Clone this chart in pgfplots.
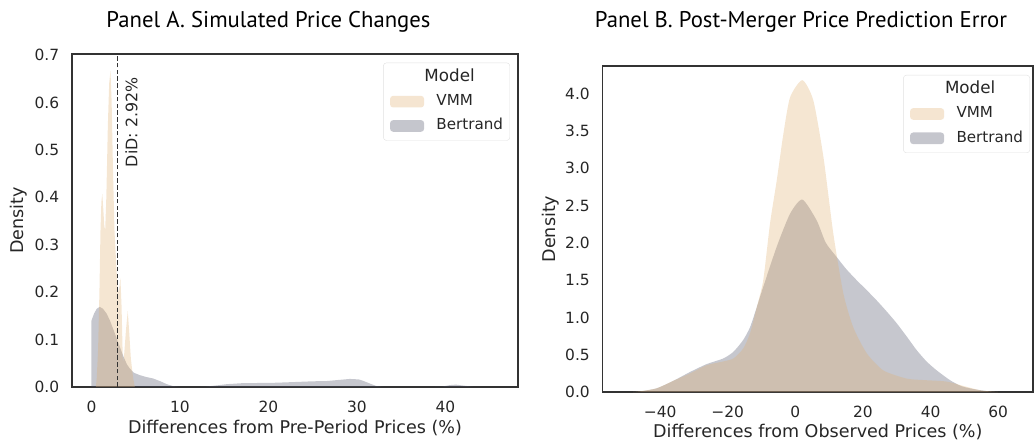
\documentclass[border=0pt]{standalone}
\usepackage{fontspec}
\setmainfont{DejaVu Sans}
\newfontfamily\titlefont{PT Sans}
\usepackage{pgfplots}
\pgfplotsset{compat=1.18}
\definecolor{vmm}{RGB}{224,177,114}
\definecolor{bert}{RGB}{77,80,102}
\definecolor{framec}{RGB}{51,51,51}
\newcommand\tickfont{\fontsize{15.5}{18}\selectfont}
\newcommand\labelfont{\fontsize{17.6}{20}\selectfont}
\newcommand\legfont{\fontsize{15.2}{18}\selectfont}

\pgfplotsset{
  mystyle/.style={
    scale only axis,
    axis line style={framec, line width=1.25bp},
    major tick length=0pt,
    tick label style={font=\tickfont, text=black!85},
    label style={font=\labelfont, text=black!85},
    xticklabel style={anchor=base, yshift=-25.3bp, inner sep=0pt},
    yticklabel style={anchor=east, xshift=-12.7bp, inner sep=0pt},
    legend style={draw=black!12, rounded corners=3bp, fill=white, font=\legfont,
      text=black!85, inner xsep=6.7bp, inner ysep=7.5bp, row sep=10.3bp, column sep=12.4bp,
      nodes={inner sep=0pt, text height=11bp, text depth=3bp}, anchor=north east},
    legend cell align=left,
    legend image code/.code={\fill[##1] (0bp,-5.8bp) rectangle (34bp,5.8bp);},
  },
  vmmstyle/.style={fill=vmm, fill opacity=0.32, draw=none},
  bertstyle/.style={fill=bert, fill opacity=0.32, draw=none},
}

\begin{document}
\begin{tikzpicture}
\useasboundingbox (0,0) rectangle (1034bp,441bp);

\node[font=\titlefont\fontsize{22.8}{26}\selectfont] at (268.5bp,419bp) {Panel A. Simulated Price Changes};
\node[font=\titlefont\fontsize{22.8}{26}\selectfont] at (801bp,419bp) {Panel B. Post-Merger Price Prediction Error};

% Panel A
\begin{axis}[mystyle,
  at={(72bp,54bp)}, anchor=south west,
  width=446bp, height=333bp,
  xmin=-2.2, xmax=48.2, ymin=0, ymax=0.702,
  xtick={0,10,20,30,40}, xticklabels={0,10,20,30,40},
  ytick={0,0.1,0.2,0.3,0.4,0.5,0.6,0.7},
  yticklabels={0.0,0.1,0.2,0.3,0.4,0.5,0.6,0.7},
  xlabel={Differences from Pre-Period Prices (\%)},
  ylabel={Density},
  xlabel style={at={(axis description cs:0.5,-0.124)}, anchor=center},
  ylabel style={at={(axis description cs:-0.1204,0.5)}, anchor=center},
  legend style={at={(axis description cs:0.982,0.974)}},
]
\addplot[bertstyle, forget plot] coordinates {
(0,0) (0,0.14) (0.3,0.155) (0.6,0.165) (0.94,0.169) (1.3,0.165) (1.7,0.155) (2.07,0.141)
(2.5,0.12) (2.9,0.10) (3.2,0.085) (3.6,0.065) (4.0,0.048) (4.33,0.039) (4.8,0.03) (5.46,0.025)
(6.2,0.021) (6.96,0.018) (7.8,0.012) (8.5,0.006) (9.2,0.002) (10,0.0005) (11,0.0002) (12,0.0003)
(13,0.001) (14,0.003) (15.3,0.006) (17,0.008) (19,0.0085) (20.9,0.009) (23,0.0105) (25,0.012)
(26.6,0.0126) (28,0.015) (29.2,0.017) (30.2,0.016) (30.7,0.013) (31.5,0.007) (32.2,0.002) (33,0.0005)
(34,0.0001) (38,0.0001) (39.7,0.001) (40.5,0.004) (41.2,0.005) (42,0.003) (43.1,0.0005) (44,0)
} \closedcycle;
\addplot[vmmstyle, forget plot] coordinates {
(0.5,0) (0.6,0.02) (0.75,0.08) (0.9,0.2) (1.02,0.33) (1.12,0.39) (1.22,0.407) (1.32,0.38)
(1.45,0.34) (1.55,0.33) (1.68,0.4) (1.85,0.55) (2.0,0.64) (2.15,0.666) (2.28,0.6) (2.44,0.45)
(2.6,0.33) (2.82,0.25) (3.0,0.2) (3.15,0.21) (3.27,0.23) (3.4,0.17) (3.55,0.05) (3.7,0.07)
(3.9,0.12) (4.1,0.16) (4.25,0.12) (4.45,0.06) (4.7,0.02) (4.9,0)
} \closedcycle;
\addplot[forget plot, framec, line width=1.5bp, dash pattern=on 4.6bp off 2.2bp] coordinates {(2.92,0) (2.92,0.702)};
\node[rotate=90, font=\fontsize{15.9}{18}\selectfont, text=black!85] at (axis cs:4.52,0.558) {DiD: 2.92\%};
\addlegendimage{empty legend}\addlegendentry{\hspace*{-12bp}\fontsize{16.8}{18}\selectfont Model}
\addlegendimage{vmmstyle}\addlegendentry{VMM}
\addlegendimage{bertstyle}\addlegendentry{Bertrand}
\end{axis}

% Panel B
\begin{axis}[mystyle,
  at={(602.7bp,49bp)}, anchor=south west,
  width=430.3bp, height=326bp,
  xmin=-57, xmax=70.3, ymin=0, ymax=4.37,
  xtick={-40,-20,0,20,40,60}, xticklabels={−40,−20,0,20,40,60},
  ytick={0,0.5,1,1.5,2,2.5,3,3.5,4},
  yticklabels={0.0,0.5,1.0,1.5,2.0,2.5,3.0,3.5,4.0},
  xlabel={Differences from Observed Prices (\%)},
  ylabel={Density},
  xlabel style={at={(axis description cs:0.5,-0.1218)}, anchor=center},
  ylabel style={at={(axis description cs:-0.1208,0.5)}, anchor=center},
  legend style={at={(axis description cs:0.993,0.9724)}},
]
\addplot[bertstyle, forget plot, smooth, tension=0.4] coordinates {
(-48,0) (-45.6,0.01) (-41,0.05) (-36.1,0.15) (-31.1,0.27) (-26.2,0.375) (-21.3,0.45) (-18.3,0.54)
(-15.4,0.70) (-13.4,0.87) (-11.4,1.14) (-9.5,1.41) (-5.5,1.95) (-1.57,2.39) (2.06,2.58) (6.3,2.30) (9,2.0)
(12.2,1.81) (15,1.65) (18.1,1.50) (21,1.37) (24,1.23) (27,1.08) (30,0.92) (33,0.74) (35.9,0.56)
(38.8,0.41) (41.8,0.29) (45.7,0.16) (49,0.08) (52.6,0.04) (57,0.01) (60,0)
} \closedcycle;
\addplot[vmmstyle, forget plot, smooth, tension=0.4] coordinates {
(-48,0) (-45.9,0.01) (-41,0.05) (-36.1,0.15) (-31.1,0.25) (-26.2,0.36) (-21.3,0.41) (-18.3,0.45)
(-15.4,0.585) (-13.4,0.79) (-11.4,1.14) (-9.5,1.5) (-7.5,2.26) (-5.5,2.84) (-3.55,3.46) (-1.57,3.95)
(2.06,4.18) (5.3,3.91) (8.3,3.15) (11.2,2.13) (14.2,1.32) (17.1,0.87) (21.1,0.52) (26,0.29)
(32.9,0.18) (38,0.16) (44.7,0.14) (50.6,0.07) (55,0.02) (60,0)
} \closedcycle;
\node[anchor=west, inner sep=0pt, font=\tickfont, text=black!85] at ([yshift=9.3bp]rel axis cs:0,1) {1e−2};
\addlegendimage{empty legend}\addlegendentry{\hspace*{-11.5bp}\fontsize{16.8}{18}\selectfont Model}
\addlegendimage{vmmstyle}\addlegendentry{VMM}
\addlegendimage{bertstyle}\addlegendentry{Bertrand}
\end{axis}
\end{tikzpicture}
\end{document}
